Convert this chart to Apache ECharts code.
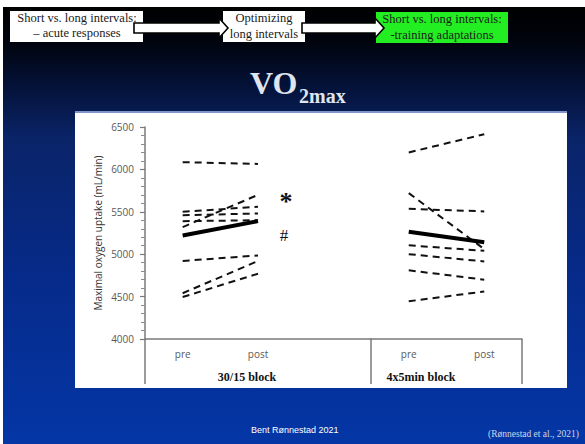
<!DOCTYPE html>
<html>
<head>
<meta charset="utf-8">
<script src="https://cdn.jsdelivr.net/npm/echarts@6/dist/echarts.min.js"></script>
<style>
  html, body { margin: 0; padding: 0; background: #ffffff; }
  #c { width: 585px; height: 444px; }
</style>
</head>
<body>
<div id="c"></div>
<script>
// ---- data ----
const categoriesLeft = ['pre', 'post', ''];
const categoriesRight = ['pre', 'post'];
const yMin = 4000, yMax = 6500, yInterval = 500;

const block3015Pre  = [6085, 5500, 5460, 5390, 5320, 4920, 4540, 4495];
const block3015Post = [6065, 5560, 5480, 5400, 5700, 4985, 4920, 4770];
const block3015Mean = [5220, 5390];

const block4x5Pre  = [6200, 5720, 5535, 5105, 5000, 4810, 4445];
const block4x5Post = [6415, 5060, 5505, 5040, 4915, 4700, 4560];
const block4x5Mean = [5265, 5140];

const blockNames = ['30/15 block', '4x5min block'];
const yAxisName = 'Maximal oxygen uptake (mL/min)';

// ---- chart ----
const chart = echarts.init(document.getElementById('c'), null, { renderer: 'svg' });

const dashStyle = { color: '#111', width: 2, type: [7, 5] };
const series = [];
block3015Pre.forEach((v, i) => {
  series.push({ type: 'line', xAxisIndex: 0, yAxisIndex: 0, data: [v, block3015Post[i]],
    symbol: 'none', lineStyle: dashStyle, silent: true, z: 3 });
});
series.push({ type: 'line', xAxisIndex: 0, yAxisIndex: 0, data: block3015Mean,
  symbol: 'none', lineStyle: { color: '#000', width: 4 }, z: 4 });
block4x5Pre.forEach((v, i) => {
  series.push({ type: 'line', xAxisIndex: 1, yAxisIndex: 1, data: [v, block4x5Post[i]],
    symbol: 'none', lineStyle: dashStyle, silent: true, z: 3 });
});
series.push({ type: 'line', xAxisIndex: 1, yAxisIndex: 1, data: block4x5Mean,
  symbol: 'none', lineStyle: { color: '#000', width: 4 }, z: 4 });

const axisGray = '#7a7a7a';
const labelGray = '#595959';
const serif = '"Liberation Serif", "DejaVu Serif", serif';
const sans = '"Open Sans", "Liberation Sans", sans-serif';

const option = {
  animation: false,
  grid: [
    { left: 145, top: 127, width: 226, height: 212, outerBoundsMode: 'none', containLabel: false },
    { left: 371, top: 127, width: 151, height: 212, outerBoundsMode: 'none', containLabel: false }
  ],
  xAxis: [
    { type: 'category', gridIndex: 0, data: categoriesLeft, boundaryGap: true,
      axisLine: { lineStyle: { color: axisGray, width: 1.5 } }, axisTick: { show: false },
      axisLabel: { color: labelGray, fontSize: 10, margin: 10, fontFamily: sans } },
    { type: 'category', gridIndex: 1, data: categoriesRight, boundaryGap: true,
      axisLine: { lineStyle: { color: axisGray, width: 1.5 } }, axisTick: { show: false },
      axisLabel: { color: labelGray, fontSize: 10, margin: 10, fontFamily: sans } }
  ],
  yAxis: [
    { type: 'value', gridIndex: 0, min: yMin, max: yMax, interval: yInterval,
      name: yAxisName, nameLocation: 'middle', nameRotate: 90, nameGap: 42,
      nameTextStyle: { color: '#333', fontSize: 10, fontFamily: sans },
      axisLine: { show: true, lineStyle: { color: axisGray, width: 1.5 } },
      axisTick: { show: true, length: 5, lineStyle: { color: axisGray, width: 1.2 } },
      minorTick: { show: true, splitNumber: 5, length: 4, lineStyle: { color: '#8a8a8a', width: 1 } },
      splitLine: { show: false }, minorSplitLine: { show: false },
      axisLabel: { color: labelGray, fontSize: 10, margin: 11, fontFamily: sans,
        formatter: function (v) { return String(v); } } },
    { type: 'value', gridIndex: 1, min: yMin, max: yMax, interval: yInterval, show: false,
      splitLine: { show: false } }
  ],
  series: series,
  graphic: [
    // slide background
    { type: 'rect', z: -10, shape: { x: 3, y: 7, width: 582, height: 437 },
      style: { fill: new echarts.graphic.LinearGradient(0, 0, 0, 1, [
        { offset: 0, color: '#000000' },
        { offset: 0.08, color: '#01040e' },
        { offset: 0.18, color: '#041238' },
        { offset: 0.3, color: '#0a2468' },
        { offset: 0.6, color: '#062a88' },
        { offset: 1, color: '#0436a6' }
      ]) } },
    // white chart panel
    { type: 'rect', z: -5, shape: { x: 75, y: 113, width: 492, height: 275 }, style: { fill: '#ffffff' } },
    { type: 'rect', z: -6, shape: { x: 75, y: 111, width: 492, height: 2 }, style: { fill: '#7f95c8' } },

    // header boxes
    { type: 'rect', z: 1, shape: { x: 10, y: 11, width: 133, height: 31 }, style: { fill: '#ffffff' } },
    { type: 'text', z: 2, style: { x: 77, y: 18, text: 'Short vs. long intervals:', align: 'center', verticalAlign: 'middle',
      font: '12.5px ' + serif, fill: '#1a1a1a' } },
    { type: 'text', z: 2, style: { x: 77, y: 33, text: '– acute responses', align: 'center', verticalAlign: 'middle',
      font: '12.5px ' + serif, fill: '#1a1a1a' } },

    { type: 'rect', z: 1, shape: { x: 223, y: 11, width: 82, height: 31 }, style: { fill: '#ffffff' } },
    { type: 'text', z: 2, style: { x: 264, y: 18, text: 'Optimizing', align: 'center', verticalAlign: 'middle',
      font: '12.5px ' + serif, fill: '#1a1a1a' } },
    { type: 'text', z: 2, style: { x: 264, y: 34, text: 'long intervals', align: 'center', verticalAlign: 'middle',
      font: '12.5px ' + serif, fill: '#1a1a1a' } },

    { type: 'rect', z: 1, shape: { x: 376, y: 12, width: 132, height: 31 }, style: { fill: '#22ee22' } },
    { type: 'text', z: 2, style: { x: 442, y: 19, text: 'Short vs. long intervals:', align: 'center', verticalAlign: 'middle',
      font: '12.5px ' + serif, fill: '#1a1a1a' } },
    { type: 'text', z: 2, style: { x: 442, y: 35, text: '-training adaptations', align: 'center', verticalAlign: 'middle',
      font: '12.5px ' + serif, fill: '#1a1a1a' } },

    // arrows
    { type: 'polygon', z: 3, shape: { points: [[134, 23], [219, 23], [219, 18], [228, 28], [219, 38], [219, 33], [134, 33]] },
      style: { fill: '#ffffff', stroke: '#000', lineWidth: 1.6 } },
    { type: 'polygon', z: 3, shape: { points: [[302, 23], [375, 23], [375, 18], [384, 28], [375, 38], [375, 33], [302, 33]] },
      style: { fill: '#ffffff', stroke: '#000', lineWidth: 1.6 } },

    // title
    { type: 'text', z: 2, style: { x: 250, y: 99, text: 'VO', verticalAlign: 'bottom',
      font: 'bold 32px ' + serif, fill: '#dfe4ef' } },
    { type: 'text', z: 2, style: { x: 299, y: 106, text: '2max', verticalAlign: 'bottom',
      font: 'bold 20px ' + serif, fill: '#dfe4ef' } },

    // significance marks
    { type: 'text', z: 5, style: { x: 286, y: 201, text: '*', align: 'center', verticalAlign: 'middle',
      font: 'bold 26px ' + serif, fill: '#111' } },
    { type: 'text', z: 5, style: { x: 284, y: 235, text: '#', align: 'center', verticalAlign: 'middle',
      font: '17px ' + serif, fill: '#111' } },

    // category box lines below the x axis
    { type: 'line', z: 5, shape: { x1: 145, y1: 339, x2: 145, y2: 384 }, style: { stroke: axisGray, lineWidth: 1.5 } },
    { type: 'line', z: 5, shape: { x1: 371, y1: 339, x2: 371, y2: 384 }, style: { stroke: axisGray, lineWidth: 1.5 } },
    { type: 'line', z: 5, shape: { x1: 522, y1: 339, x2: 522, y2: 384 }, style: { stroke: axisGray, lineWidth: 1.5 } },

    // block names
    { type: 'text', z: 5, style: { x: 247, y: 377, text: blockNames[0], align: 'center', verticalAlign: 'middle',
      font: 'bold 12px ' + serif, fill: '#111' } },
    { type: 'text', z: 5, style: { x: 421, y: 377, text: blockNames[1], align: 'center', verticalAlign: 'middle',
      font: 'bold 12px ' + serif, fill: '#111' } },

    // footer
    { type: 'text', z: 2, style: { x: 251, y: 430, text: 'Bent Rønnestad 2021', verticalAlign: 'middle',
      font: '9px "Liberation Sans", Arial, sans-serif', fill: '#ffffff' } },
    { type: 'text', z: 2, style: { x: 579, y: 434, text: '(Rønnestad et al., 2021)', align: 'right', verticalAlign: 'middle',
      font: '9.5px ' + serif, fill: '#cfd6e6' } }
  ]
};
chart.setOption(option);
</script>
</body>
</html>
